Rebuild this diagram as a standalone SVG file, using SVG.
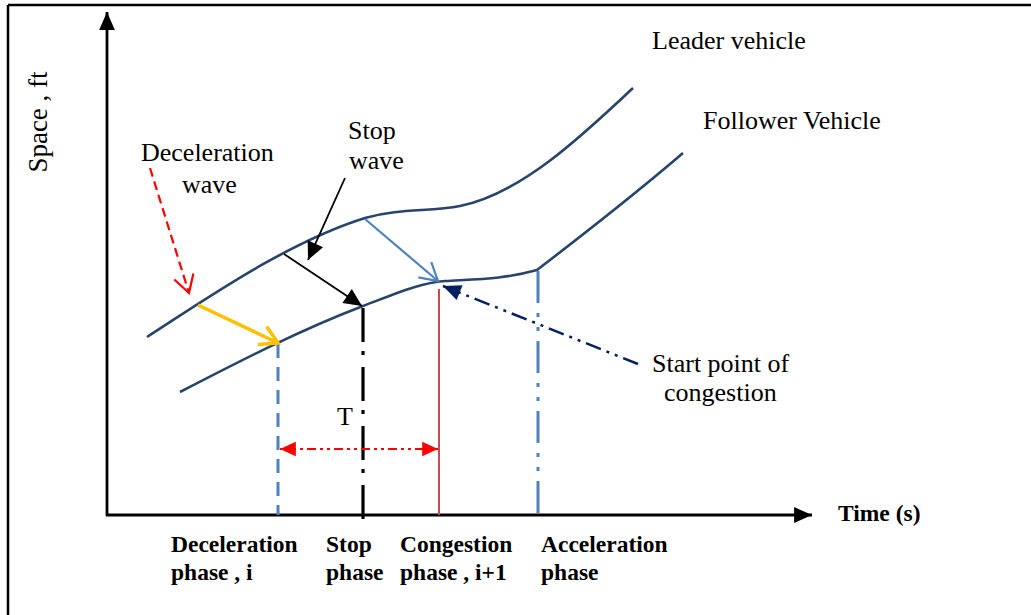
<svg xmlns="http://www.w3.org/2000/svg" width="1031" height="615" viewBox="0 0 1031 615">
<style>
.t{font-family:"Liberation Serif","Times New Roman",serif;font-size:26px;fill:#000}
.b{font-family:"Liberation Serif","Times New Roman",serif;font-size:23.5px;font-weight:bold;fill:#000}
.curve{fill:none;stroke:#27446A;stroke-width:2.6}
</style>
<defs>
<marker id="axisHead" markerUnits="userSpaceOnUse" markerWidth="20" markerHeight="20" viewBox="-18 -8 19 16" refX="0" refY="0" orient="auto"><path d="M0,0 L-17,-7.5 L-17,7.5 Z" fill="#000"/></marker>
<marker id="openY" markerUnits="userSpaceOnUse" markerWidth="26" markerHeight="26" viewBox="-22 -13 24 26" refX="0" refY="0" orient="auto"><path d="M-17.3,-10 L0,0 L-17.3,10" fill="none" stroke="#FFC000" stroke-width="3.5"/></marker>
<marker id="openR" markerUnits="userSpaceOnUse" markerWidth="26" markerHeight="26" viewBox="-22 -13 24 26" refX="0" refY="0" orient="auto"><path d="M-17.3,-10 L0,0 L-17.3,10" fill="none" stroke="#FF0000" stroke-width="2.2"/></marker>
<marker id="openB" markerUnits="userSpaceOnUse" markerWidth="26" markerHeight="26" viewBox="-22 -13 24 26" refX="0" refY="0" orient="auto"><path d="M-17.3,-10 L0,0 L-17.3,10" fill="none" stroke="#4F81BD" stroke-width="2.2"/></marker>
<marker id="fillK" markerUnits="userSpaceOnUse" markerWidth="20" markerHeight="20" viewBox="-18 -9 19 18" refX="0" refY="0" orient="auto"><path d="M0,0 L-17,-8 L-17,8 Z" fill="#000"/></marker>
<marker id="fillD" markerUnits="userSpaceOnUse" markerWidth="20" markerHeight="20" viewBox="-18 -9 19 18" refX="0" refY="0" orient="auto"><path d="M0,0 L-17,-7.5 L-17,7.5 Z" fill="#002060"/></marker>
<marker id="fillR" markerUnits="userSpaceOnUse" markerWidth="20" markerHeight="20" viewBox="-18 -9 19 18" refX="0" refY="0" orient="auto"><path d="M0,0 L-15,-7 L-15,7 Z" fill="#FF0000"/></marker>
<marker id="fillRs" markerUnits="userSpaceOnUse" markerWidth="20" markerHeight="20" viewBox="-18 -9 19 18" refX="0" refY="0" orient="auto-start-reverse"><path d="M0,0 L-15,-7 L-15,7 Z" fill="#FF0000"/></marker>
</defs>

<g id="frame">
<line x1="8" y1="5" x2="1031" y2="5" stroke="#000" stroke-width="2.5"/>
<line x1="8" y1="5" x2="8" y2="615" stroke="#000" stroke-width="2.5"/>
</g>

<g id="axes">
<line x1="107" y1="516" x2="107" y2="12" stroke="#000" stroke-width="2.8" marker-end="url(#axisHead)"/>
<line x1="106" y1="515" x2="812" y2="515" stroke="#000" stroke-width="2.8" marker-end="url(#axisHead)"/>
<text class="t" style="font-size:27px" transform="translate(47,122) rotate(-90)" text-anchor="middle">Space , ft</text>
<text class="b" x="838" y="521">Time (s)</text>
</g>

<g id="leader-vehicle">
<path class="curve" d="M147,337 C200,303 285,243 365,218 C400,208 430,212 460,206 C520,194 580,138 633,88"/>
<text class="t" x="652" y="49">Leader vehicle</text>
</g>

<g id="follower-vehicle">
<path class="curve" d="M180,392 C240,361 300,330 363,306 C400,292 420,283 445,281 C480,279 505,279 537,270 C580,237 640,190 683,153"/>
<text class="t" x="703" y="129">Follower Vehicle</text>
</g>

<g id="phase-lines">
<line x1="278" y1="344" x2="278" y2="515" stroke="#4F81BD" stroke-width="3" stroke-dasharray="14 9"/>
<line x1="363" y1="308" x2="363" y2="521" stroke="#000" stroke-width="3.2" stroke-dasharray="34 9 4 12"/>
<line x1="439" y1="289" x2="439" y2="515" stroke="#C0504D" stroke-width="2"/>
<line x1="538" y1="271" x2="538" y2="515" stroke="#4F81BD" stroke-width="3" stroke-dasharray="32 10 4 10 4 10"/>
</g>

<g id="connectors">
<line x1="150" y1="168" x2="189" y2="293" stroke="#FF0000" stroke-width="2.2" stroke-dasharray="9 5" marker-end="url(#openR)"/>
<line x1="198" y1="305" x2="278" y2="343" stroke="#FFC000" stroke-width="3.5" marker-end="url(#openY)"/>
<line x1="345" y1="178" x2="308" y2="260" stroke="#000" stroke-width="1.8" marker-end="url(#fillK)"/>
<line x1="284" y1="254" x2="362" y2="306" stroke="#000" stroke-width="1.8" marker-end="url(#fillK)"/>
<line x1="365" y1="219" x2="438" y2="281" stroke="#4F81BD" stroke-width="2.2" marker-end="url(#openB)"/>
<line x1="638" y1="364" x2="443" y2="286" stroke="#002060" stroke-width="2.5" stroke-dasharray="16 6 3 6 3 6" marker-end="url(#fillD)"/>
<line x1="280" y1="449" x2="438" y2="449" stroke="#FF0000" stroke-width="1.8" stroke-dasharray="9 4 3 4 3 4" marker-start="url(#fillRs)" marker-end="url(#fillR)"/>
</g>

<g id="labels">
<text class="t" x="141" y="161">Deceleration</text>
<text class="t" x="182" y="193">wave</text>
<text class="t" x="348" y="139">Stop</text>
<text class="t" x="349" y="169">wave</text>
<text class="t" x="652" y="372">Start point of</text>
<text class="t" x="664" y="401">congestion</text>
<text class="t" x="337" y="425">T</text>
</g>

<g id="phase-labels">
<text class="b" x="171" y="552">Deceleration</text>
<text class="b" x="171" y="580">phase , i</text>
<text class="b" x="326" y="552">Stop</text>
<text class="b" x="326" y="580">phase</text>
<text class="b" x="400" y="552">Congestion</text>
<text class="b" x="400" y="580">phase , i+1</text>
<text class="b" x="541" y="552">Acceleration</text>
<text class="b" x="541" y="580">phase</text>
</g>
</svg>
